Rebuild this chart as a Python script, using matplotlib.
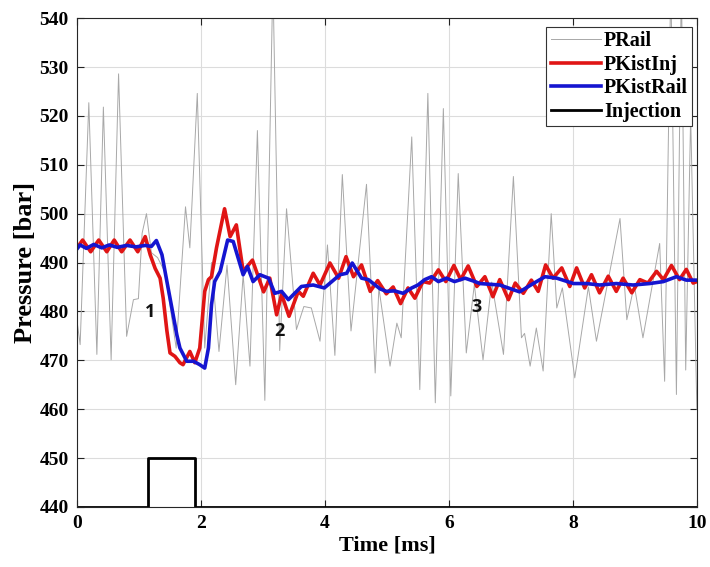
import matplotlib
matplotlib.use("Agg")
import matplotlib.pyplot as plt

# ---------------- data ----------------
prail_t = [0.0, 0.05, 0.19, 0.32, 0.425, 0.55, 0.67, 0.80, 0.91, 0.99, 1.05, 1.12, 1.2, 1.3, 1.42,
           1.6, 1.75, 1.82, 1.94, 2.06, 2.17, 2.29, 2.42, 2.56, 2.68, 2.79, 2.91, 3.03, 3.16, 3.27,
           3.38, 3.54, 3.66, 3.78, 3.92, 4.04, 4.16, 4.28, 4.42, 4.67, 4.81, 4.87, 5.05, 5.16, 5.23,
           5.40, 5.53, 5.66, 5.78, 5.91, 6.03, 6.15, 6.28, 6.41, 6.55, 6.69, 6.88, 7.04, 7.17, 7.22,
           7.31, 7.41, 7.52, 7.65, 7.74, 7.83, 8.03, 8.25, 8.38, 8.76, 8.87, 8.99, 9.13, 9.40, 9.48,
           9.58, 9.67, 9.75, 9.82, 9.9, 9.95, 10.0]
prail_p = [478, 473.2, 522.7, 471.2, 521.8, 470.1, 528.6, 474.9, 482.4, 482.6, 496, 500, 492, 491, 488,
           472.5, 501.4, 493, 524.6, 472.5, 490, 471.8, 489.5, 465, 487.5, 468.8, 517, 461.8, 548, 472,
           501, 476.3, 481, 480.7, 473.9, 493.6, 471, 508, 476, 506, 467.4, 484.8, 468.8, 477.6, 474.6,
           515.7, 464, 524.6, 461.3, 521.5, 462.7, 508.2, 471.5, 485.5, 470.1, 486, 471.2, 507.6, 474.6, 475.5,
           468.8, 476.6, 467.8, 500, 480.7, 484.8, 466.4, 485, 473.9, 499, 478.3, 485.4, 474.6, 493.9, 465.7,
           548, 463, 548, 468, 520, 490, 460]

inj_t = [0.0, 0.09, 0.22, 0.35, 0.48, 0.6, 0.72, 0.855, 0.98, 1.1, 1.18, 1.26, 1.34, 1.39, 1.45,
         1.5, 1.58, 1.66, 1.71, 1.82, 1.90, 1.98, 2.06, 2.12, 2.17, 2.25, 2.38, 2.47, 2.57, 2.68,
         2.83, 3.01, 3.11, 3.22, 3.30, 3.42, 3.57, 3.65, 3.81, 3.92, 4.08, 4.22, 4.34, 4.46, 4.59,
         4.73, 4.85, 4.99, 5.1, 5.22, 5.34, 5.45, 5.58, 5.69, 5.83, 5.95, 6.08, 6.19, 6.31, 6.45,
         6.58, 6.71, 6.82, 6.96, 7.07, 7.2, 7.33, 7.44, 7.56, 7.68, 7.82, 7.95, 8.06, 8.19, 8.30,
         8.43, 8.57, 8.70, 8.81, 8.95, 9.08, 9.21, 9.35, 9.46, 9.59, 9.72, 9.83, 9.94, 10.0]
inj_p = [493, 494.6, 492.2, 494.6, 492.2, 494.6, 492.2, 494.6, 492.2, 495.3, 491.6, 488.8, 486.8, 482.7, 476,
         471.5, 470.8, 469.5, 469.1, 471.8, 469.5, 472.5, 484.1, 486.5, 487.1, 493, 501, 495.3, 497.7, 488.2,
         490.5, 484, 486.8, 479.3, 483.5, 479, 484.1, 483.1, 487.8, 485.4, 489.9, 486.8, 491.2, 487.1, 489.5,
         484.1, 486.3, 483.6, 485, 481.6, 484.8, 482.7, 486.1, 485.8, 488.5, 486.1, 489.4, 486.5, 489.3, 485.1,
         487.1, 483, 486.5, 482.4, 485.8, 483.7, 486.4, 484.1, 489.5, 486.8, 488.9, 485.1, 488.9, 484.8, 487.5,
         483.8, 487.2, 484.1, 486.8, 483.8, 486.5, 485.8, 488.2, 486.5, 489.4, 486.5, 488.6, 485.8, 486.1]

rail_t = [0.0, 0.05, 0.15, 0.27, 0.4, 0.52, 0.65, 0.8, 0.95, 1.1, 1.2, 1.28, 1.37, 1.45, 1.53,
          1.61, 1.66, 1.77, 1.88, 1.98, 2.06, 2.12, 2.17, 2.22, 2.31, 2.43, 2.52, 2.6, 2.68, 2.75,
          2.84, 2.95, 3.09, 3.19, 3.30, 3.41, 3.62, 3.81, 3.99, 4.24, 4.35, 4.44, 4.59, 4.70, 4.89,
          4.99, 5.12, 5.26, 5.4, 5.5, 5.61, 5.72, 5.83, 5.96, 6.09, 6.26, 6.42, 6.5, 6.82, 7.14,
          7.36, 7.55, 7.74, 8.01, 8.22, 8.43, 8.70, 8.97, 9.24, 9.46, 9.67, 9.83, 10.0]
rail_p = [492.8, 493.6, 492.9, 493.7, 493.0, 493.6, 493.1, 493.5, 493.2, 493.5, 493.3, 494.5, 491.6, 486.1, 480.7,
          475.2, 472.5, 469.8, 469.8, 469.1, 468.4, 472.5, 481.4, 486.1, 488.2, 494.6, 494.3, 490.9, 487.5, 489.2,
          486.1, 487.5, 486.8, 483.7, 484.1, 482.4, 485.1, 485.4, 484.8, 487.5, 487.8, 489.9, 486.8, 486.5, 484.6,
          484.1, 484.2, 483.7, 484.8, 485.4, 486.5, 487.1, 486.1, 486.8, 486.1, 486.8, 486.1, 485.7, 485.4, 484.0,
          485.7, 487.1, 486.8, 485.7, 485.7, 485.4, 485.7, 485.4, 485.7, 486.1, 487.1, 486.4, 486.4]

pulse_t = [0.0, 1.15, 1.15, 1.9, 1.9, 10.0]
pulse_p = [440, 440, 450, 450, 440, 440]

annot_labels = ["1", "2", "3"]
annot_t = [1.18, 3.27, 6.45]
annot_p = [479.9, 476.0, 481.0]

xticks = [0, 2, 4, 6, 8, 10]
yticks = [440, 450, 460, 470, 480, 490, 500, 510, 520, 530, 540]

# ---------------- plot ----------------
serif = ["Liberation Serif", "DejaVu Serif"]
fig = plt.figure(figsize=(7.1, 5.67), dpi=100)
ax = fig.add_axes([0.1085, 0.106, 0.873, 0.862])

ax.plot(prail_t, prail_p, color="#a8a8a8", lw=0.7, label="PRail")
ax.plot(inj_t, inj_p, color="#e01515", lw=2.6, label="PKistInj", solid_joinstyle="round")
ax.plot(rail_t, rail_p, color="#1515d0", lw=2.6, label="PKistRail", solid_joinstyle="round")
ax.plot(pulse_t, pulse_p, color="black", lw=2.0, label="Injection")

for lab, tt, pp in zip(annot_labels, annot_t, annot_p):
    ax.text(tt, pp, lab, fontsize=13, fontweight="bold", family=["Open Sans", "DejaVu Sans"],
            ha="center", va="center", color="#111111")

ax.set_xlim(0, 10)
ax.set_ylim(440, 540)
ax.set_xticks(xticks)
ax.set_yticks(yticks)
ax.grid(True, color="#dcdcdc", lw=0.8)
ax.set_axisbelow(True)
ax.tick_params(direction="in", top=True, right=True, length=5, width=0.8, colors="#222222",
               labelsize=14, pad=6)
for lbl in ax.get_xticklabels() + ax.get_yticklabels():
    lbl.set_fontfamily(serif)
    lbl.set_fontweight("bold")
    lbl.set_color("black")
for s in ax.spines.values():
    s.set_color("#262626")
    s.set_linewidth(0.8)

ax.set_xlabel("Time [ms]", fontsize=16, fontweight="bold", family=serif, labelpad=2)
ax.set_ylabel("Pressure [bar]", fontsize=19, fontweight="bold", family=serif, labelpad=2)

leg = ax.legend(loc="upper right", bbox_to_anchor=(0.9985, 0.99), fancybox=False, framealpha=1,
                edgecolor="#333333", handlelength=2.5, handletextpad=0.15, borderpad=0.2,
                labelspacing=0.18, borderaxespad=0.2,
                prop={"family": serif, "weight": "bold", "size": 14.5})
leg.get_frame().set_linewidth(0.8)

fig.savefig("out.png", dpi=100)
